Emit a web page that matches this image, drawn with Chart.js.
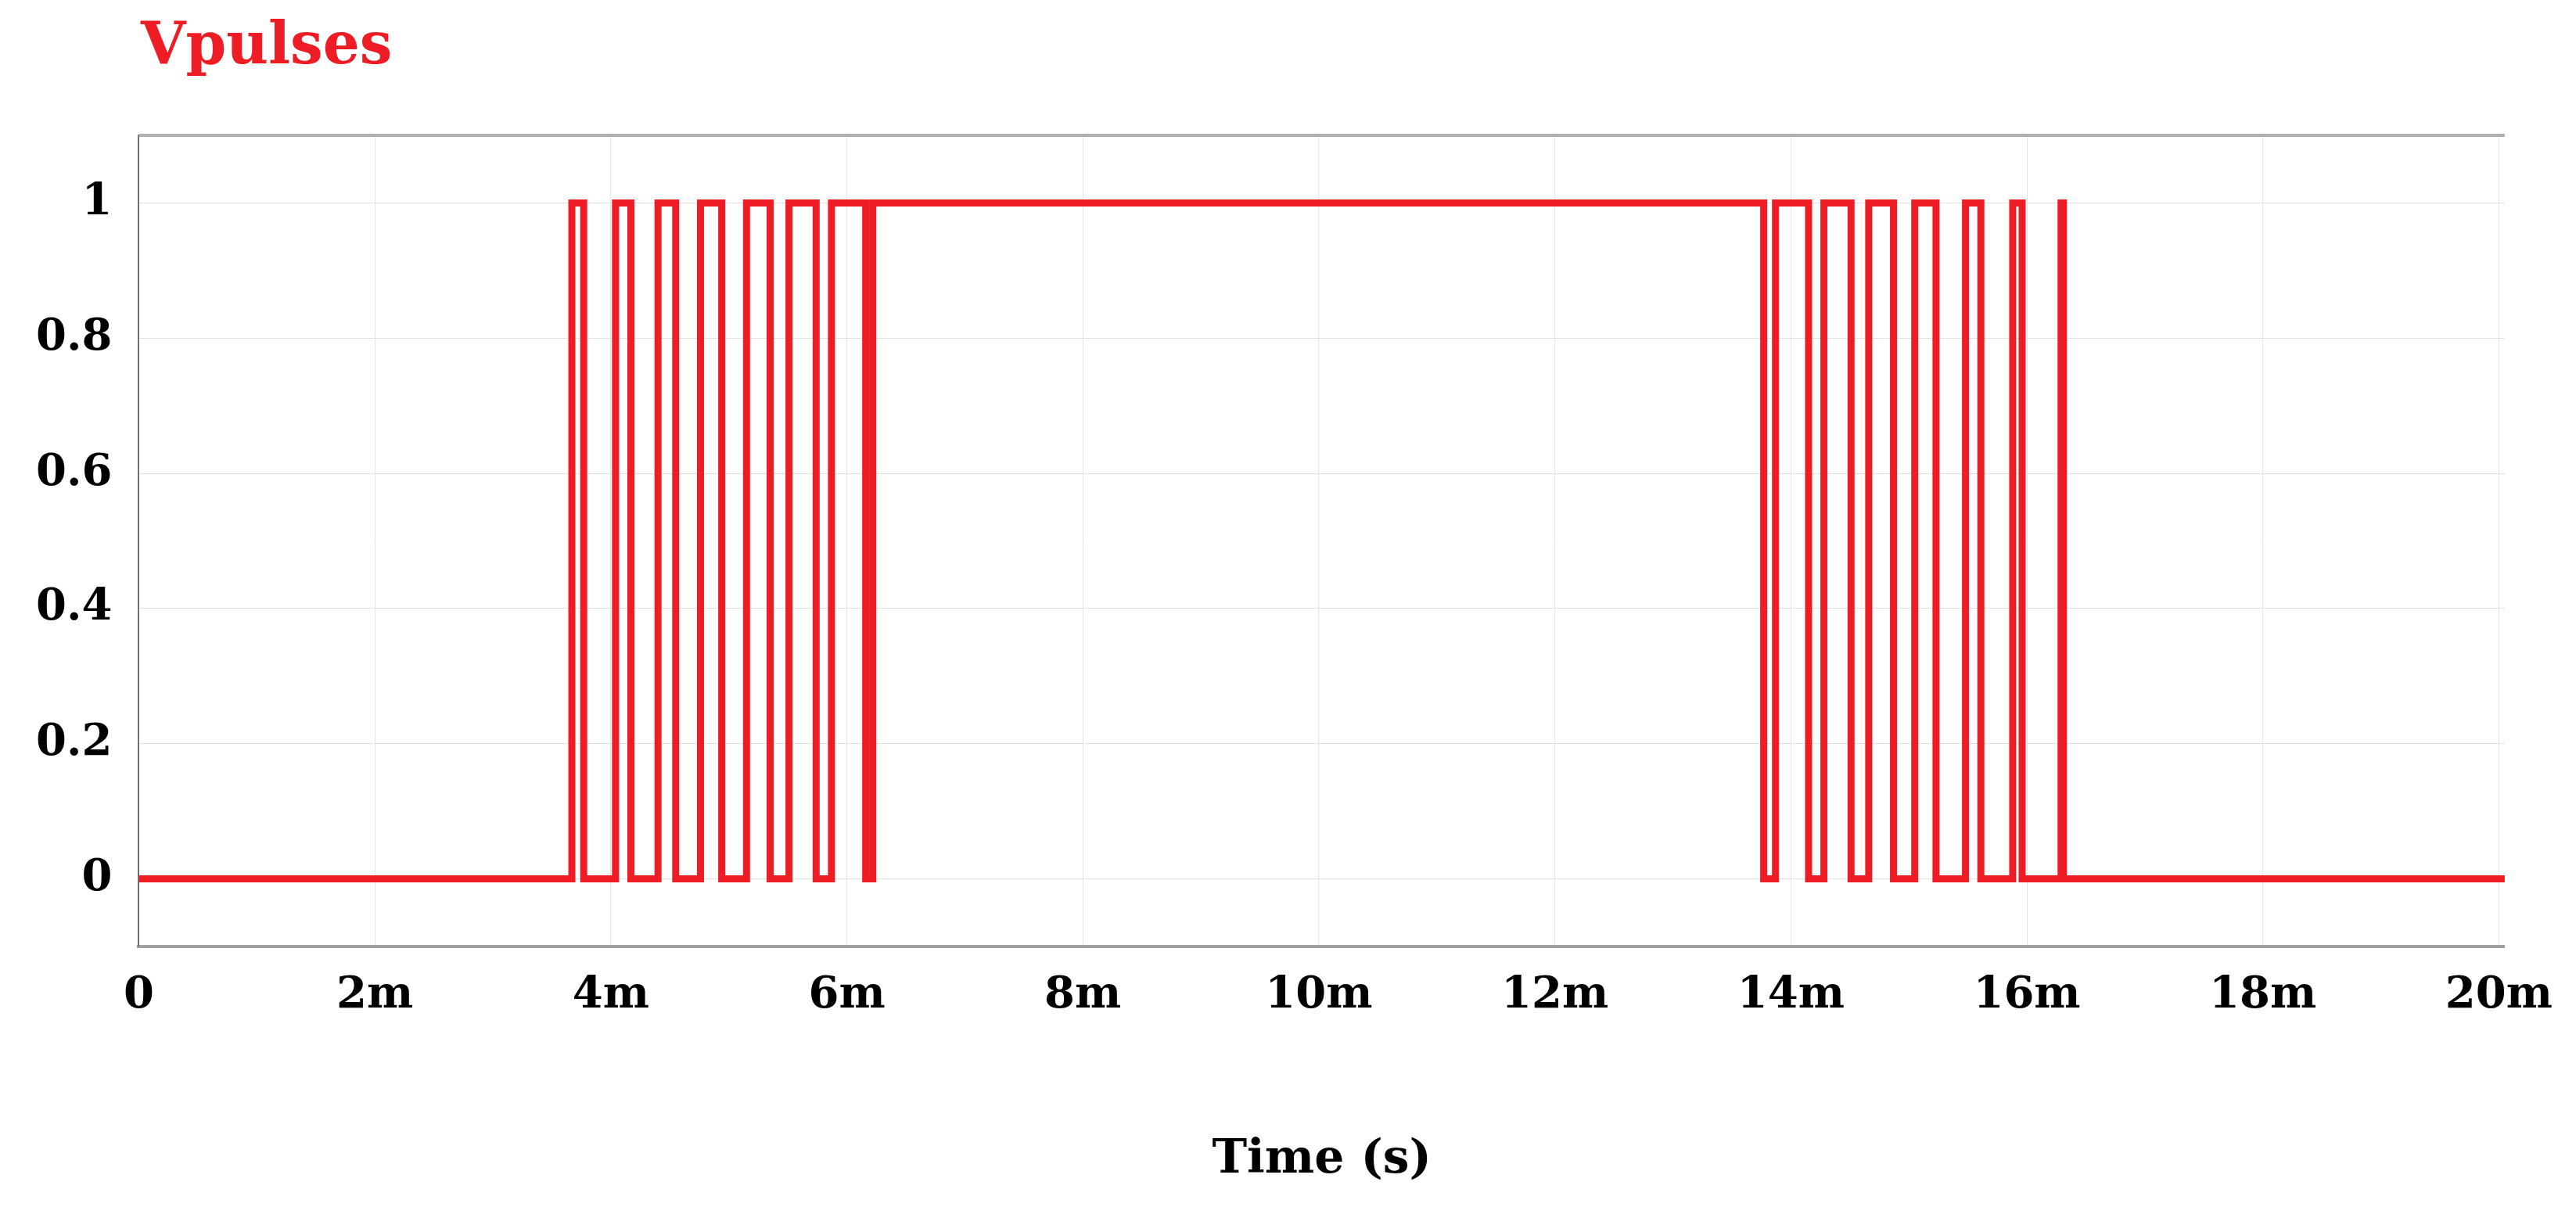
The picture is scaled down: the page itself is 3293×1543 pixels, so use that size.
<!DOCTYPE html>
<html>
<head>
<meta charset="utf-8">
<script src="https://cdn.jsdelivr.net/npm/chart.js@4/dist/chart.umd.min.js"></script>
<style>
    html, body { margin: 0; padding: 0; background: #ffffff; }
    #wrap { position: relative; width: 3293px; height: 1543px; }
    #title { position: absolute; left: 180px; top: 12px; font: bold 74px 'DejaVu Serif', serif; color: #ee1c25; }
</style>
</head>
<body>
<div id="wrap">
    <div id="title">Vpulses</div>
    <canvas id="chart" width="3293" height="1543"></canvas>
</div>
<script>
// Switching instants (ms) and the level the signal takes at each instant
const edgeTimes = [0, 3.67, 3.77, 4.04, 4.17, 4.40, 4.55, 4.76, 4.94, 5.15, 5.35, 5.51, 5.74, 5.87, 6.16, 6.22,
    13.77, 13.87, 14.15, 14.28, 14.51, 14.66, 14.87, 15.05, 15.23, 15.48, 15.61, 15.88, 15.96, 16.29, 16.31, 20.05];
const edgeLevels = [0, 1, 0, 1, 0, 1, 0, 1, 0, 1, 0, 1, 0, 1, 0, 1,
    0, 1, 0, 1, 0, 1, 0, 1, 0, 1, 0, 1, 0, 1, 0, 0];
const yTicks = [0, 0.2, 0.4, 0.6, 0.8, 1];

const serif = "'DejaVu Serif', 'Liberation Serif', serif";

new Chart(document.getElementById('chart'), {
    type: 'line',
    data: {
        datasets: [{
            label: 'Vpulses',
            data: edgeTimes.map((t, i) => ({ x: t, y: edgeLevels[i] })),
            stepped: 'before',
            borderColor: '#ee1c25',
            borderWidth: 9,
            pointRadius: 0,
            fill: false
        }]
    },
    options: {
        responsive: false,
        animation: false,
        layout: { padding: { top: 173, right: 0, left: 12, bottom: 20 } },
        plugins: { legend: { display: false }, tooltip: { enabled: false } },
        scales: {
            x: {
                type: 'linear',
                min: 0,
                max: 20.05,
                afterBuildTicks: axis => {
                    axis.ticks = [0, 2, 4, 6, 8, 10, 12, 14, 16, 18, 20].map(v => ({ value: v }));
                },
                grid: { color: '#e4e4e4', drawTicks: false },
                border: { color: '#a0a0a0', width: 4 },
                ticks: {
                    color: '#000',
                    padding: 30,
                    maxRotation: 0,
                    font: { family: serif, size: 56, weight: 'bold' },
                    callback: v => v === 0 ? '0' : v + 'm'
                },
                title: {
                    display: true,
                    text: 'Time (s)',
                    color: '#000',
                    padding: { top: 110 },
                    font: { family: serif, size: 60, weight: 'bold' }
                }
            },
            y: {
                min: -0.1,
                max: 1.1,
                afterBuildTicks: axis => {
                    axis.ticks = yTicks.map(v => ({ value: v }));
                },
                grid: { color: '#e0e0e0', drawTicks: false },
                border: { color: '#707070', width: 2 },
                ticks: {
                    color: '#000',
                    padding: 34,
                    font: { family: serif, size: 56, weight: 'bold' },
                    callback: v => String(v)
                }
            }
        }
    },
    plugins: [{
        id: 'frame',
        afterDraw(chart) {
            const { ctx, chartArea: a } = chart;
            ctx.save();
            ctx.strokeStyle = '#b0b0b0';
            ctx.lineWidth = 4;
            ctx.beginPath();
            ctx.moveTo(a.left, a.top);
            ctx.lineTo(a.right, a.top);
            ctx.stroke();
            ctx.restore();
        }
    }]
});
</script>
</body>
</html>
